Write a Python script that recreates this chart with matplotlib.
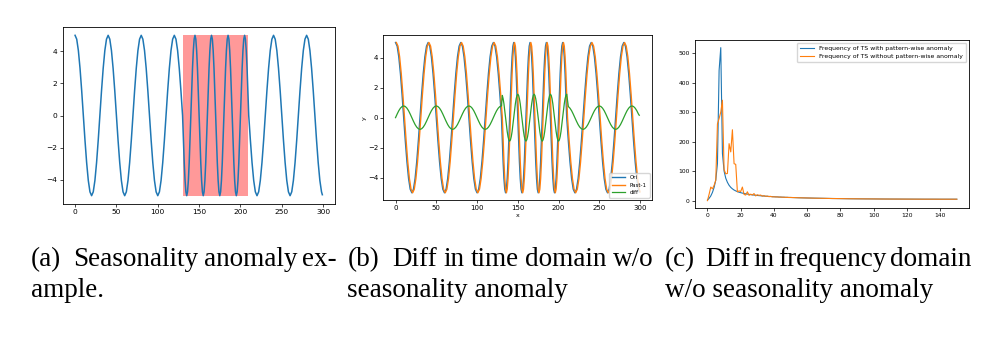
import matplotlib.pyplot as plt
import numpy as np

# seasonal series: step 2 in the normal part, step 1 inside the anomaly window
ts_x = np.r_[0:130:2, 130:211, 212:300:2, 299]
ts_y = [
    5.0, 4.76, 4.05, 2.94, 1.55, 0.0, -1.55, -2.94, -4.05, -4.76, -5.0, -4.76, -4.05, -2.94, -1.55, 0.0, 1.55, 2.94, 4.05, 4.76,
    5.0, 4.76, 4.05, 2.94, 1.55, 0.0, -1.55, -2.94, -4.05, -4.76, -5.0, -4.76, -4.05, -2.94, -1.55, 0.0, 1.55, 2.94, 4.05, 4.76,
    5.0, 4.76, 4.05, 2.94, 1.55, 0.0, -1.55, -2.94, -4.05, -4.76, -5.0, -4.76, -4.05, -2.94, -1.55, 0.0, 1.55, 2.94, 4.05, 4.76,
    5.0, 4.76, 4.05, 2.94, 1.55, 0.0, -1.55, -2.94, -4.05, -4.76, -5.0, -4.76, -4.05, -2.94, -1.55, 0.0, 1.55, 2.94, 4.05, 4.76,
    5.0, 4.76, 4.05, 2.94, 1.55, 0.0, -1.55, -2.94, -4.05, -4.76, -5.0, -4.76, -4.05, -2.94, -1.55, 0.0, 1.55, 2.94, 4.05, 4.76,
    5.0, 4.76, 4.05, 2.94, 1.55, 0.0, -1.55, -2.94, -4.05, -4.76, -5.0, -4.76, -4.05, -2.94, -1.55, 0.0, 1.55, 2.94, 4.05, 4.76,
    5.0, 4.76, 4.05, 2.94, 1.55, 0.0, -1.55, -2.94, -4.05, -4.76, -5.0, -4.76, -4.05, -2.94, -1.55, 0.0, 1.55, 2.94, 4.05, 4.76,
    5.0, 4.76, 4.05, 2.94, 1.55, 0.0, -1.55, -2.94, -4.05, -4.76, -5.0, -4.76, -4.05, -2.94, -1.55, 0.0, 1.55, 2.94, 4.05, 4.76,
    5.0, 4.76, 4.05, 2.94, 1.55, 0.0, -1.55, -2.94, -4.05, -4.76, -5.0, -4.76, -4.05, -2.94, -1.55, 0.0, 1.55, 2.94, 4.05, 4.76,
    5.0, 4.76, 4.05, 2.94, 1.55, 0.0, -1.55, -2.94, -4.05, -4.76,
    -4.94,
]
diff_y = [
    0.0, 0.24, 0.46, 0.63, 0.74, 0.78, 0.74, 0.63, 0.46, 0.24, 0.0, -0.24, -0.46, -0.63, -0.74, -0.78, -0.74, -0.63, -0.46, -0.24,
    0.0, 0.24, 0.46, 0.63, 0.74, 0.78, 0.74, 0.63, 0.46, 0.24, 0.0, -0.24, -0.46, -0.63, -0.74, -0.78, -0.74, -0.63, -0.46, -0.24,
    0.0, 0.24, 0.46, 0.63, 0.74, 0.78, 0.74, 0.63, 0.46, 0.24, 0.0, -0.24, -0.46, -0.63, -0.74, -0.78, -0.74, -0.63, -0.46, -0.24,
    0.0, 0.24, 0.46, 0.63, 0.74, 0.78,
    1.48, 1.26, 0.92, 0.48, 0.0, -0.48, -0.92, -1.26, -1.48, -1.56, -1.48, -1.26, -0.92, -0.48,
    0.0, 0.48, 0.92, 1.26, 1.48, 1.56, 1.48, 1.26, 0.92, 0.48, 0.0, -0.48, -0.92, -1.26, -1.48, -1.56, -1.48, -1.26, -0.92, -0.48,
    0.0, 0.48, 0.92, 1.26, 1.48, 1.56, 1.48, 1.26, 0.92, 0.48, 0.0, -0.48, -0.92, -1.26, -1.48, -1.56, -1.48, -1.26, -0.92, -0.48,
    0.0, 0.48, 0.92, 1.26, 1.48, 1.56, 1.48, 1.26, 0.92, 0.48, 0.0, -0.48, -0.92, -1.26, -1.48, -1.56, -1.48, -1.26, -0.92, -0.48,
    0.0, 0.48, 0.92, 1.26, 1.48, 1.56,
    0.74, 0.63, 0.46, 0.24, 0.0, -0.24, -0.46, -0.63, -0.74, -0.78, -0.74, -0.63, -0.46, -0.24,
    0.0, 0.24, 0.46, 0.63, 0.74, 0.78, 0.74, 0.63, 0.46, 0.24, 0.0, -0.24, -0.46, -0.63, -0.74, -0.78, -0.74, -0.63, -0.46, -0.24,
    0.0, 0.24, 0.46, 0.63, 0.74, 0.78, 0.74, 0.63, 0.46, 0.24,
    0.16,
]
anomaly_start, anomaly_end = 130, 209

# spectrum magnitudes
freq_x = np.r_[0:51, 55:151:5]
freq_with = [
    2, 8, 16, 28, 45, 70, 125, 441, 518, 160,
    100, 76, 62, 52, 45, 40, 36, 33, 30.5, 28.5,
    27, 25.5, 24.3, 23.2, 22.2, 21.3, 20.4, 19.6, 18.9, 18.2,
    17.6, 17.0, 16.5, 16.0, 15.5, 15.1, 14.7, 14.3, 13.9, 13.6,
    13.2, 12.9, 12.6, 12.3, 12.0, 11.8, 11.5, 11.3, 11.1, 10.9,
    10.7,
    9.8, 9.0, 8.4, 7.8, 7.3, 6.9, 6.5, 6.2, 6.0, 5.8,
    5.6, 5.4, 5.3, 5.2, 5.1, 5.0, 5.0, 4.9, 4.9, 4.9,
]
freq_without = [
    0, 22, 46, 40, 52, 69, 260, 278, 300, 340,
    105, 91, 92, 193, 165, 240, 125, 123, 30, 33,
    31, 46, 21, 19, 30, 18, 22, 19, 24, 16,
    20, 18, 19, 15, 17, 14.5, 15.5, 13.5, 14.5, 12.8,
    13, 12.5, 12.8, 11.9, 12.2, 11.5, 11.8, 11.0, 11.3, 10.6,
    10.8,
    9.7, 9.1, 8.3, 7.9, 7.2, 6.9, 6.4, 6.2, 5.9, 5.8,
    5.5, 5.4, 5.3, 5.2, 5.1, 5.0, 5.0, 4.9, 4.9, 4.9,
]

captions = [
    ("(a)  Seasonality anomaly ex-", "ample."),
    ("(b)  Diff in time domain w/o", "seasonality anomaly"),
    ("(c)  Diff in frequency domain", "w/o seasonality anomaly"),
]

W, H = 994, 341
fig = plt.figure(figsize=(W / 100, H / 100), dpi=100)


def box(l, t, r, b):
    return [l / W, 1 - b / H, (r - l) / W, (b - t) / H]


def style(ax, fs):
    ax.tick_params(labelsize=fs, length=2.2, width=0.5, pad=1.5)
    for s in ax.spines.values():
        s.set_linewidth(0.6)


ax1 = fig.add_axes(box(62.7, 27.3, 334.7, 203.7))
ax1.plot(ts_x, ts_y, color='#1f77b4', lw=1.1)
ax1.fill_between([anomaly_start, anomaly_end], -5, 5, color='red', alpha=0.4, lw=0)
ax1.set_xticks([0, 50, 100, 150, 200, 250, 300])
style(ax1, 5.4)

ax2 = fig.add_axes(box(383.3, 35, 652.3, 200.3))
ax2.plot(ts_x, ts_y, color='#1f77b4', lw=1.0, label='Ori')
ax2.plot(ts_x + 1, ts_y, color='#ff7f0e', lw=1.0, label='Past-1')
ax2.plot(ts_x, diff_y, color='#2ca02c', lw=0.9, label='diff')
ax2.set_xticks([0, 50, 100, 150, 200, 250, 300])
ax2.set_xlabel('x', fontsize=4.6, labelpad=1)
ax2.set_ylabel('y', fontsize=4.6, labelpad=1)
ax2.legend(loc='lower right', fontsize=4.0, handlelength=2.4, borderpad=0.5,
           labelspacing=0.4, framealpha=0.8)
style(ax2, 5.0)

ax3 = fig.add_axes(box(695, 40, 969.3, 208.3))
ax3.plot(freq_x, freq_with, color='#1f77b4', lw=0.8,
         label='Frequency of TS with pattern-wise anomaly')
ax3.plot(freq_x, freq_without, color='#ff7f0e', lw=0.8,
         label='Frequency of TS without pattern-wise anomaly')
ax3.set_xticks(range(0, 141, 20))
ax3.legend(loc='upper right', fontsize=4.4, handlelength=2.4, borderpad=0.5,
           labelspacing=0.4, framealpha=0.8)
style(ax3, 4.3)

# justified two-line captions; the "(x)" label keeps a wider separator
renderer = fig.canvas.get_renderer()
cap_font = dict(family='Liberation Serif', fontsize=19.5, va='baseline')
cap_left = [31, 347.3, 665]
cap_right = [336.7, 653.3, 971.7]
label_sep = 7
for (l1, l2), x0, x1 in zip(captions, cap_left, cap_right):
    words = l1.split()
    texts = [fig.text(0, 1 - 265.7 / H, w, **cap_font) for w in words]
    widths = [t.get_window_extent(renderer).width for t in texts]
    gap = (x1 - x0 - sum(widths) - label_sep) / (len(words) - 1)
    x = x0
    for i, (t, w) in enumerate(zip(texts, widths)):
        t.set_x(x / W)
        x += w + gap + (label_sep if i == 0 else 0)
    fig.text(x0 / W, 1 - 296.7 / H, l2, **cap_font)

fig.savefig('out.png', dpi=100)
